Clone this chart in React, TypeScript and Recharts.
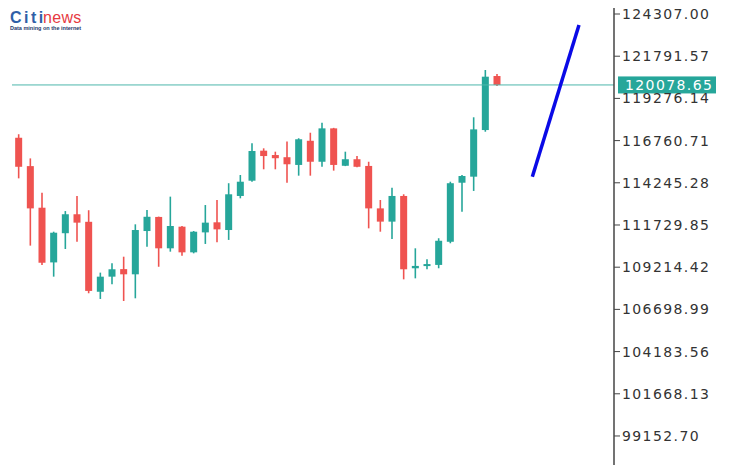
import { ComposedChart, Bar, Line, XAxis, YAxis, ReferenceLine } from 'recharts';

// candles, oldest first
const opens = [
  116930, 115240, 112760, 109500, 111240, 112370, 111920, 107750, 108650, 109100,
  108790, 111370, 112210, 110340, 111630, 110100, 111290, 111890, 111430, 113460,
  114370, 116160, 115900, 115770, 115310, 116750, 115500, 117490, 115260, 115650,
  115250, 112720, 111930, 113460, 109150, 109290, 109350, 110730, 114250, 114610,
  117390, 120610,
];
const highs = [
  117140, 115700, 113650, 111330, 112560, 113460, 112610, 108890, 109450, 109840,
  111770, 112620, 112230, 113420, 111670, 111370, 112920, 113220, 114220, 114710,
  116600, 116300, 116100, 116700, 116900, 117230, 117830, 117520, 116100, 115840,
  115500, 113220, 113950, 113560, 110340, 109690, 110940, 114310, 114710, 118150,
  120970, 120730,
];
const lows = [
  114510, 110500, 109340, 108650, 110300, 110730, 107660, 107320, 108200, 107200,
  107360, 110440, 109240, 110140, 109900, 110040, 110600, 110700, 110840, 113320,
  114310, 115050, 115050, 114250, 114670, 114670, 115200, 114970, 115240, 115170,
  111530, 111330, 110900, 108490, 108550, 109090, 109150, 110640, 112520, 113760,
  117290, 120020,
];
const closes = [
  115200, 112720, 109480, 111270, 112370, 111870, 107800, 108650, 109090, 108790,
  111430, 112220, 110340, 111670, 110100, 111330, 111870, 111470, 113560, 114310,
  116140, 115840, 115710, 115350, 116840, 115500, 117490, 115310, 115650, 115200,
  112720, 111930, 113460, 109090, 109290, 109400, 110790, 114220, 114650, 117430,
  120570, 120078.65,
];

// blue projection line (bar index, price)
const forecastIdx = [44, 48];
const forecastVals = [114610, 123650];

const yTicks = [
  124307.0, 121791.57, 119276.14, 116760.71, 114245.28, 111729.85,
  109214.42, 106698.99, 104183.56, 101668.13, 99152.7,
];

const lastClose = closes[closes.length - 1];

const GREEN = '#26a69a';
const RED = '#ef5350';

const data = [
  ...opens.map((o, i) => ({
    i,
    open: o,
    high: highs[i],
    low: lows[i],
    close: closes[i],
    range: [lows[i], highs[i]],
  })),
  ...forecastIdx.map((fi, k) => ({ i: fi, forecast: forecastVals[k] })),
];

const Candle = (props: any) => {
  const { x, y, width, height, payload } = props;
  if (!payload || payload.open == null || height == null) return null;
  const { open, close, high, low } = payload;
  const top = Math.min(y, y + height);
  const h = Math.abs(height);
  const k = h / (high - low);
  const py = (v: number) => top + (high - v) * k;
  const cx = x + width / 2;
  const color = close >= open ? GREEN : RED;
  const bt = py(Math.max(open, close));
  const bb = py(Math.min(open, close));
  return (
    <g>
      <line x1={cx} x2={cx} y1={top} y2={top + h} stroke={color} strokeWidth={1.6} />
      <rect x={cx - 3.5} y={bt} width={7} height={Math.max(bb - bt, 2)} fill={color} />
    </g>
  );
};

const PriceTag = (props: any) => {
  const vb = props.viewBox;
  if (!vb) return null;
  const bx = vb.x + vb.width + 4;
  return (
    <g>
      <rect x={bx} y={vb.y - 8.5} width={98} height={17} fill={GREEN} />
      <text
        x={bx + 7}
        y={vb.y}
        dy="0.36em"
        fill="#fff"
        fontSize={14}
        letterSpacing={1.4}
        fontFamily="DejaVu Sans"
      >
        {lastClose.toFixed(2)}
      </text>
    </g>
  );
};

const App = () => {
  return (
    <div style={{ position: 'relative', width: 732, height: 469, margin: '-8px 0 0 -8px' }}>
      <ComposedChart
        width={732}
        height={469}
        data={data}
        margin={{ top: 8, right: 0, bottom: 4, left: 12 }}
      >
        <XAxis dataKey="i" type="number" domain={[-0.6, 51]} hide allowDataOverflow />
        <YAxis
          orientation="right"
          type="number"
          width={118}
          domain={[97423, 124665]}
          ticks={yTicks}
          interval={0}
          allowDataOverflow
          tickFormatter={(v: number) => v.toFixed(2)}
          axisLine={{ stroke: '#444', strokeWidth: 1.5 }}
          tickLine={{ stroke: '#444' }}
          tickSize={6}
          tickMargin={2}
          tick={{ fill: '#333', fontSize: 14, fontFamily: 'DejaVu Sans', letterSpacing: 1.4 }}
        />
        <ReferenceLine y={lastClose} stroke="#4db6ac" strokeWidth={1} label={PriceTag} />
        <Bar dataKey="range" barSize={7} shape={Candle} isAnimationActive={false} />
        <Line
          dataKey="forecast"
          connectNulls
          stroke="#0a0ae6"
          strokeWidth={3.5}
          dot={false}
          isAnimationActive={false}
        />
      </ComposedChart>
      <svg style={{ position: 'absolute', left: 0, top: 0 }} width={100} height={34}>
        <text x={10} y={23} fontSize={16} fontWeight="bold" fill="#2f5fa7" letterSpacing={2.5} fontFamily="Liberation Sans">
          Citi
        </text>
        <text x={43} y={23} fontSize={16} fill="#e63a3f" letterSpacing={0.3} fontFamily="Liberation Sans">
          news
        </text>
        <text x={10} y={30} fontSize={5.5} fontWeight="bold" fill="#243a6b" fontFamily="Liberation Sans">
          Data mining on the internet
        </text>
      </svg>
    </div>
  );
};

export default App;
